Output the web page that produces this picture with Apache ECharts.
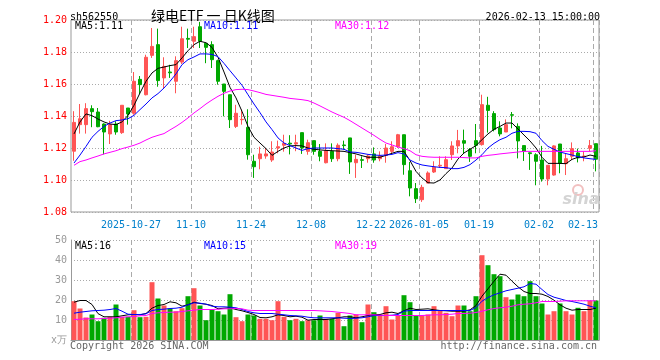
<!DOCTYPE html>
<html><head><meta charset="utf-8">
<script src="https://cdn.jsdelivr.net/npm/echarts@6/dist/echarts.min.js"></script>
<style>html,body{margin:0;padding:0;background:#fff}#c{width:660px;height:360px}</style>
</head><body><div id="c"></div>
<script>
const dates = [
'2025-10-13','2025-10-14','2025-10-15','2025-10-16','2025-10-17','2025-10-20','2025-10-21','2025-10-22','2025-10-23','2025-10-24',
'2025-10-27','2025-10-28','2025-10-29','2025-10-30','2025-10-31','2025-11-03','2025-11-04','2025-11-05','2025-11-06','2025-11-07',
'2025-11-10','2025-11-11','2025-11-12','2025-11-13','2025-11-14','2025-11-17','2025-11-18','2025-11-19','2025-11-20','2025-11-21',
'2025-11-24','2025-11-25','2025-11-26','2025-11-27','2025-11-28','2025-12-01','2025-12-02','2025-12-03','2025-12-04','2025-12-05',
'2025-12-08','2025-12-09','2025-12-10','2025-12-11','2025-12-12','2025-12-15','2025-12-16','2025-12-17','2025-12-18','2025-12-19',
'2025-12-22','2025-12-23','2025-12-24','2025-12-25','2025-12-26','2025-12-29','2025-12-30','2025-12-31','2026-01-05','2026-01-06',
'2026-01-07','2026-01-08','2026-01-09','2026-01-12','2026-01-13','2026-01-14','2026-01-15','2026-01-16','2026-01-19','2026-01-20',
'2026-01-21','2026-01-22','2026-01-23','2026-01-26','2026-01-27','2026-01-28','2026-01-29','2026-01-30','2026-02-02','2026-02-03',
'2026-02-04','2026-02-05','2026-02-06','2026-02-09','2026-02-10','2026-02-11','2026-02-12','2026-02-13'];

const openP = [1.118,1.1346,1.1346,1.1446,1.1425,1.135,1.1288,1.135,1.1296,1.145,
1.1417,1.1629,1.1533,1.1779,1.1846,1.1638,1.1675,1.1617,1.1737,1.1885,
1.1867,1.1958,1.1854,1.1846,1.1746,1.160,1.1533,1.1335,1.1377,1.1329,
1.1117,1.1133,1.115,1.1125,1.120,1.1217,1.123,1.1225,1.1296,1.1179,
1.1246,1.1179,1.1108,1.1179,1.1133,1.1219,1.1263,1.1108,1.1127,1.1133,
1.1163,1.1133,1.1154,1.1179,1.121,1.1283,1.1058,1.0946,1.0877,1.0981,
1.105,1.1088,1.1071,1.1158,1.1213,1.1246,1.119,1.1246,1.1221,1.1467,
1.1415,1.1325,1.13,1.1408,1.1335,1.1215,1.117,1.1158,1.1125,1.1006,
1.1031,1.1225,1.1102,1.1148,1.1169,1.1146,1.1198,1.1227];
const closeP = [1.136,1.1383,1.1446,1.1427,1.1333,1.130,1.1346,1.130,1.1467,1.1413,
1.1617,1.1596,1.1767,1.1835,1.1621,1.171,1.167,1.1746,1.1883,1.188,
1.1896,1.1867,1.1829,1.1752,1.1617,1.1554,1.1377,1.1417,1.1379,1.1158,
1.1083,1.1163,1.1163,1.1175,1.1208,1.1229,1.1225,1.1233,1.120,1.1233,
1.1179,1.1148,1.1183,1.1133,1.1217,1.1215,1.1113,1.1129,1.1123,1.115,
1.1125,1.115,1.120,1.1208,1.1283,1.1096,1.095,1.0883,1.0954,1.1044,
1.108,1.1092,1.1127,1.1213,1.1246,1.123,1.1148,1.1217,1.1471,1.1435,
1.1315,1.1288,1.1346,1.1405,1.1244,1.118,1.1165,1.1117,1.1006,1.1092,
1.1213,1.1104,1.1133,1.1196,1.1138,1.115,1.1215,1.113];
const lowP = [1.112,1.129,1.129,1.133,1.133,1.116,1.1225,1.1283,1.1288,1.1346,
1.1408,1.1538,1.1529,1.1763,1.1583,1.1575,1.1638,1.1542,1.1725,1.1825,
1.1825,1.1825,1.173,1.170,1.1596,1.1398,1.1325,1.1325,1.1346,1.1127,
1.1013,1.1067,1.1133,1.1113,1.1167,1.1177,1.116,1.118,1.1163,1.1158,
1.1158,1.1117,1.1104,1.1113,1.1117,1.119,1.1038,1.1013,1.1075,1.1108,
1.1108,1.1117,1.1108,1.1163,1.120,1.1033,1.0898,1.0856,1.0863,1.0979,
1.1044,1.1075,1.1071,1.1125,1.1167,1.1167,1.1113,1.1167,1.1215,1.1296,
1.1304,1.1273,1.13,1.1323,1.1135,1.1119,1.1063,1.0967,1.099,1.0967,
1.1027,1.1042,1.1031,1.1125,1.111,1.1117,1.1179,1.1054];
const highP = [1.143,1.1475,1.148,1.1467,1.145,1.1354,1.137,1.1367,1.1467,1.145,
1.1675,1.165,1.1783,1.195,1.1946,1.1767,1.172,1.1773,1.1958,1.1946,
1.1958,1.1988,1.1854,1.1867,1.1752,1.160,1.1533,1.147,1.144,1.1442,
1.1158,1.1208,1.120,1.1242,1.1246,1.1283,1.128,1.1283,1.1296,1.1252,
1.1246,1.1225,1.1229,1.1229,1.1229,1.1246,1.1263,1.1158,1.1148,1.1158,
1.1204,1.1179,1.1225,1.1242,1.1288,1.1283,1.1113,1.0981,1.097,1.1054,
1.1117,1.1148,1.1148,1.1242,1.1313,1.1315,1.12,1.135,1.1533,1.152,
1.143,1.1367,1.1379,1.1425,1.1354,1.1215,1.1171,1.1167,1.1213,1.1092,
1.1217,1.1225,1.1163,1.1235,1.1196,1.1179,1.125,1.1227];

const ma5 = [1.1288,1.1363,1.1413,1.1402,1.1381,1.1363,1.135,1.1346,1.1363,1.1404,
1.1467,1.1544,1.1617,1.1669,1.1698,1.1706,1.1715,1.1721,1.1763,1.1808,
1.1846,1.1867,1.1858,1.1829,1.1767,1.1675,1.1579,1.1513,1.1429,1.1335,
1.1267,1.1231,1.1196,1.1154,1.1179,1.12,1.1213,1.1215,1.1213,1.12,
1.1192,1.1188,1.1185,1.1183,1.1181,1.1179,1.1171,1.1163,1.1152,1.1142,
1.1142,1.1142,1.1154,1.1167,1.1179,1.1179,1.1121,1.1054,1.1013,1.0983,
1.0981,1.10,1.104,1.1075,1.1131,1.1169,1.1192,1.1215,1.1252,1.1288,
1.1317,1.1335,1.1356,1.1356,1.1319,1.1281,1.1244,1.12,1.1142,1.1104,
1.1104,1.1104,1.1102,1.1129,1.1142,1.1144,1.1156,1.1148];
const ma10 = [1.1106,1.1156,1.121,1.1267,1.1304,1.1335,1.1356,1.1371,1.1375,1.1383,
1.1404,1.144,1.1475,1.1513,1.154,1.1575,1.1617,1.1663,1.1721,1.1752,
1.1769,1.1788,1.1788,1.1785,1.1771,1.1729,1.1683,1.1638,1.1592,1.1533,
1.1475,1.1421,1.1363,1.1315,1.1263,1.1231,1.1215,1.12,1.1185,1.1196,
1.12,1.12,1.12,1.12,1.1196,1.1192,1.1175,1.1173,1.1167,1.116,
1.1156,1.1154,1.1156,1.116,1.1171,1.1163,1.1125,1.1106,1.1094,1.1088,
1.1083,1.1079,1.1077,1.1071,1.1071,1.1079,1.1096,1.1125,1.1158,1.12,
1.1229,1.1252,1.1267,1.1292,1.1304,1.1304,1.1302,1.1292,1.1246,1.121,
1.1192,1.1175,1.1165,1.1156,1.1146,1.1138,1.1133,1.1129];
const ma30 = [1.1092,1.1115,1.1125,1.1138,1.115,1.1163,1.1173,1.1183,1.1196,1.1206,
1.1217,1.1231,1.125,1.1267,1.1279,1.129,1.1313,1.1335,1.136,1.1388,
1.1419,1.1446,1.1475,1.15,1.1523,1.1542,1.1556,1.1565,1.1567,1.1565,
1.1556,1.1546,1.1535,1.1529,1.1523,1.1517,1.151,1.1506,1.1502,1.1496,
1.1481,1.1463,1.1444,1.1425,1.1408,1.1392,1.1371,1.1348,1.1325,1.1302,
1.1279,1.1254,1.1231,1.1219,1.1206,1.1196,1.1183,1.1158,1.1148,1.1144,
1.1142,1.1142,1.1142,1.1142,1.1142,1.114,1.1138,1.1138,1.1148,1.1154,
1.1158,1.1163,1.1167,1.1171,1.1175,1.1179,1.1179,1.1179,1.1179,1.1179,
1.1179,1.1179,1.1179,1.1179,1.1179,1.1179,1.1179,1.1183];

const volume = [19.4,15.75,11.25,12.75,9.4,11.1,11.6,17.75,11.6,11.6,
14.9,11.4,11.6,28.9,20.75,17.25,15.75,14.4,15.9,21.9,
25.9,17.25,9.9,15.1,14.4,12.75,22.9,11.4,9.4,12.75,
12.25,10.6,10.6,9.9,19.4,11.6,9.9,10.6,9.4,9.9,
9.9,12.25,10.6,10.6,13.6,6.9,12.25,12.75,8.9,17.75,
13.9,12.75,16.9,10.25,12.25,22.4,18.9,12.25,12.25,12.75,
16.9,14.6,13.6,11.9,17.25,17.25,14.4,21.9,42.4,37.4,
32.9,31.9,21.4,20.25,22.75,21.9,29.4,21.9,18.25,12.75,
14.4,18.25,14.4,12.75,16.1,14.4,19.75,19.75];
const volMa5 = [18.9,19.75,19.75,17.75,13.2,11.6,11.6,11.6,12.1,12.6,
12.75,12.6,13.25,15.9,17.25,17.75,19.1,18.6,16.9,17.6,
18.9,18.25,17.9,17.25,15.6,15.9,16.1,15.25,14.6,13.75,
12.75,11.25,11.1,11.6,12.6,12.25,11.6,11.9,11.4,9.9,
10.25,10.25,10.25,10.6,11.1,11.6,11.6,11.1,11.6,12.25,
12.6,12.75,13.6,13.9,13.25,14.6,15.9,15.25,15.4,15.6,
15.1,14.75,14.6,14.4,14.4,14.4,15.1,17.25,21.9,25.6,
29.4,32.9,32.4,29.4,26.6,24.25,23.25,23.25,22.9,21.75,
19.9,17.6,15.9,14.9,15.25,15.25,15.25,15.9];
const volMa10 = [13.4,13.9,14.25,14.6,14.75,14.9,15.25,15.75,14.4,12.9,
12.75,12.75,13.1,14.75,15.25,15.4,15.75,15.9,16.4,17.6,
18.6,18.4,17.9,16.9,16.6,16.6,16.4,16.1,15.25,14.25,
13.6,13.25,13.25,13.25,12.9,12.6,12.25,12.1,11.9,11.4,
11.1,11.1,11.1,11.1,11.1,10.9,10.75,10.9,11.1,11.6,
12.25,12.25,12.25,12.4,12.75,14.4,14.75,14.75,14.75,14.75,
14.75,14.75,14.75,14.75,14.75,14.75,14.75,16.25,19.4,21.25,
22.6,23.6,24.6,25.25,25.9,26.6,28.25,27.9,25.25,22.75,
21.4,20.6,19.75,19.25,18.6,17.9,16.9,16.1];
const volMa30 = [10.25,10.4,10.6,10.6,10.6,10.75,10.9,11.1,11.4,11.6,
11.75,12.1,12.25,13.25,13.6,13.75,13.9,13.9,14.25,14.6,
14.9,15.25,15.25,15.25,15.4,15.6,15.6,15.75,15.6,14.9,
14.75,14.75,14.75,14.75,14.75,14.75,14.75,14.75,14.75,14.75,
14.75,14.6,14.4,14.25,13.9,13.6,13.25,12.6,12.6,12.6,
12.6,12.4,12.25,12.25,12.25,12.25,12.25,12.25,12.25,12.4,
12.6,12.6,12.75,12.9,13.25,13.25,13.4,13.75,14.4,15.1,
15.75,16.1,16.4,16.9,17.6,17.9,18.1,18.6,19.25,19.25,
19.25,19.4,19.6,19.6,19.6,19.6,19.6,19.6];

const tickDates = ['2025-10-27','2025-11-10','2025-11-24','2025-12-08','2025-12-22','2026-01-05','2026-01-19','2026-02-02','2026-02-13'];
const tickLabels = ['2025-10-27','11-10','11-24','12-08','12-22','2026-01-05','01-19','02-02','02-13'];
const priceLegend = ['MA5:1.11','MA10:1.11','MA30:1.12'];
const volLegend = ['MA5:16','MA10:15','MA30:19'];

const RED = '#ff5555', GREEN = '#00a800';
const MONO = '"DejaVu Sans Mono", monospace';
const GRID_C = '#aaaaaa';

const isTick = (idx, val) => tickDates.indexOf(val) >= 0;
const vSplit = {show: true, interval: isTick, lineStyle: {color: GRID_C, type: [5, 3], width: 1}};
const hSplit = {show: true, lineStyle: {color: GRID_C, type: [1, 2], width: 1}};

const chart = echarts.init(document.getElementById('c'), null, {renderer: 'canvas'});
const candleData = dates.map((d, i) => [openP[i], closeP[i], lowP[i], highP[i]]);
const volData = dates.map((d, i) => ({value: volume[i], itemStyle: {color: closeP[i] >= openP[i] ? RED : GREEN}}));

function lineS(data, color, xi, yi) {
  return {type: 'line', data: data, xAxisIndex: xi, yAxisIndex: yi, symbol: 'none', smooth: false,
    lineStyle: {color: color, width: 1}, itemStyle: {color: color}, silent: true, z: 5};
}
function txt(x, y, s, color, font, align) {
  return {type: 'text', x: x, y: y, z: 100, style: {text: s, fill: color, font: font,
    align: align || 'left', verticalAlign: 'middle', textAlign: align || 'left', textVerticalAlign: 'middle'}};
}

const option = {
  animation: false,
  backgroundColor: '#fff',
  grid: [
    {left: 71, top: 20, width: 528, height: 192, show: true, borderColor: '#999', borderWidth: 1, backgroundColor: 'transparent'},
    {left: 71, top: 240, width: 528, height: 100}
  ],
  xAxis: [
    {type: 'category', gridIndex: 0, data: dates, boundaryGap: true,
      axisLine: {show: false}, axisTick: {show: false},
      axisLabel: {interval: isTick, color: '#0080cc', fontFamily: MONO, fontSize: 10, margin: 8,
        padding: [0, 6, 0, 0],
        formatter: v => { const k = tickDates.indexOf(v); return k === tickLabels.length - 1 ? '{last|' + tickLabels[k] + '}' : tickLabels[k]; },
        rich: {last: {color: '#0080cc', fontFamily: MONO, fontSize: 10, padding: [0, 20, 0, 0]}}},
      splitLine: vSplit},
    {type: 'category', gridIndex: 1, data: dates, boundaryGap: true, position: 'top',
      axisLine: {show: true, lineStyle: {color: '#999', width: 1}}, axisTick: {show: false}, axisLabel: {show: false},
      splitLine: vSplit}
  ],
  yAxis: [
    {type: 'value', gridIndex: 0, min: 1.08, max: 1.20, interval: 0.02, scale: true,
      axisLine: {show: false}, axisTick: {show: false},
      axisLabel: {color: '#ff0000', fontFamily: MONO, fontSize: 10, margin: 4, formatter: v => v.toFixed(2)},
      splitLine: hSplit},
    {type: 'value', gridIndex: 1, min: 0, max: 50, interval: 10,
      axisLine: {show: true, lineStyle: {color: '#999', width: 1}}, axisTick: {show: false},
      axisLabel: {color: '#999', fontFamily: MONO, fontSize: 10, margin: 4, formatter: v => v === 0 ? 'x万' : String(v)},
      splitLine: hSplit},
    {type: 'value', gridIndex: 1, min: 0, max: 50, interval: 10, position: 'right',
      axisLine: {show: true, lineStyle: {color: '#999', width: 1}}, axisTick: {show: false},
      axisLabel: {show: false}, splitLine: {show: false}}
  ],
  series: [
    {type: 'candlestick', xAxisIndex: 0, yAxisIndex: 0, data: candleData, barWidth: 4,
      itemStyle: {color: RED, color0: GREEN, borderColor: RED, borderColor0: GREEN, borderWidth: 1}, z: 3},
    lineS(ma5, '#000000', 0, 0),
    lineS(ma10, '#0000ff', 0, 0),
    lineS(ma30, '#ff00ff', 0, 0),
    {type: 'bar', xAxisIndex: 1, yAxisIndex: 1, data: volData, barWidth: 5, z: 3},
    lineS(volMa5, '#000000', 1, 1),
    lineS(volMa10, '#0000ff', 1, 1),
    lineS(volMa30, '#ff00ff', 1, 1)
  ],
  graphic: [
    txt(70, 17, 'sh562550', '#000', '10px ' + MONO),
    txt(151, 16, '绿电ETF 一 日K线图', '#000', '14px "Noto Sans CJK SC"'),
    txt(600, 17, '2026-02-13 15:00:00', '#000', '10px ' + MONO, 'right'),
    txt(75, 26, priceLegend[0], '#000000', '10px ' + MONO),
    txt(204, 26, priceLegend[1], '#0000ff', '10px ' + MONO),
    txt(335, 26, priceLegend[2], '#ff00ff', '10px ' + MONO),
    txt(75, 246, volLegend[0], '#000000', '10px ' + MONO),
    txt(204, 246, volLegend[1], '#0000ff', '10px ' + MONO),
    txt(335, 246, volLegend[2], '#ff00ff', '10px ' + MONO),
    txt(70, 346, 'Copyright 2026 SINA.COM', '#666', '10px ' + MONO),
    txt(597, 346, 'http://finance.sina.com.cn', '#666', '10px ' + MONO, 'right'),
    {type: 'circle', z: 1, shape: {cx: 578, cy: 190, r: 5}, style: {fill: 'none', stroke: '#f2c0c0', lineWidth: 2}},
    txt(581, 200, 'sina', '#d4d4d4', 'italic bold 16px "DejaVu Sans"', 'center')
  ]
};
chart.setOption(option);
</script></body></html>
